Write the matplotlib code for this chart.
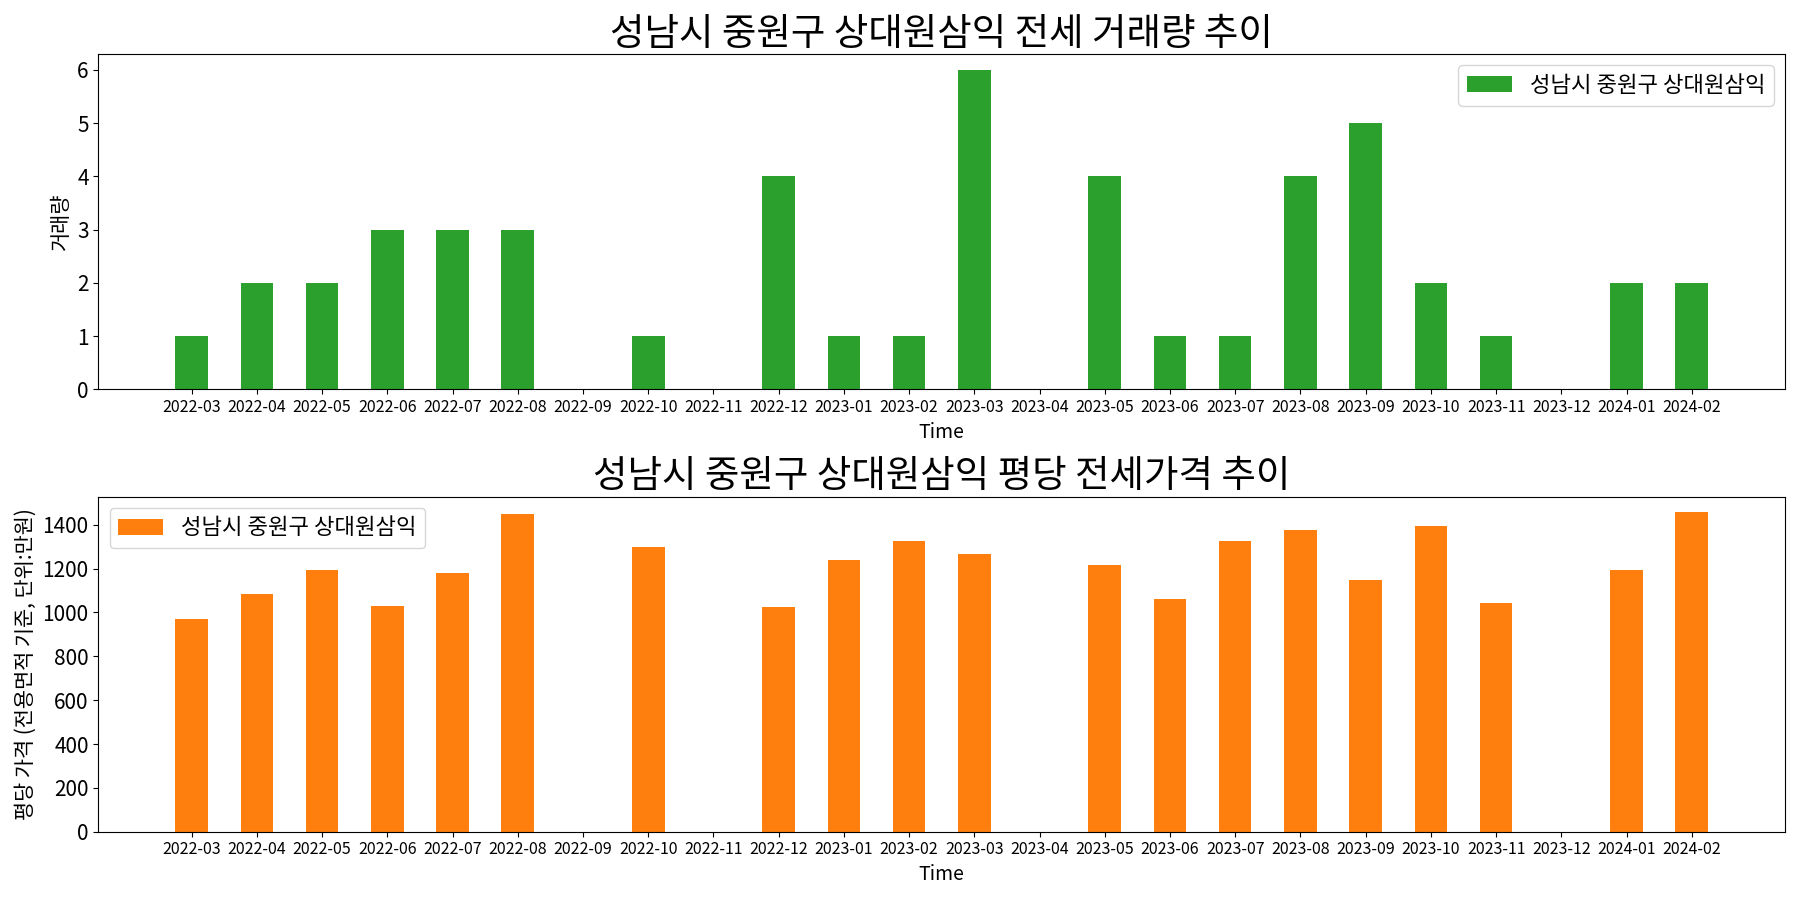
import matplotlib
matplotlib.use('Agg')
import matplotlib.pyplot as plt
import numpy as np

plt.rcParams['font.family'] = ['Noto Sans CJK KR', 'DejaVu Sans']

months = ['2022-03', '2022-04', '2022-05', '2022-06', '2022-07', '2022-08',
          '2022-09', '2022-10', '2022-11', '2022-12', '2023-01', '2023-02',
          '2023-03', '2023-04', '2023-05', '2023-06', '2023-07', '2023-08',
          '2023-09', '2023-10', '2023-11', '2023-12', '2024-01', '2024-02']
counts = [1, 2, 2, 3, 3, 3, 0, 1, 0, 4, 1, 1,
          6, 0, 4, 1, 1, 4, 5, 2, 1, 0, 2, 2]
prices = [972, 1085, 1194, 1031, 1180, 1447, 0, 1298, 0, 1027, 1239, 1325,
          1266, 0, 1216, 1063, 1325, 1374, 1149, 1392, 1045, 0, 1194, 1456]
name = '성남시 중원구 상대원삼익'

x = np.arange(len(months))

fig, (ax1, ax2) = plt.subplots(2, 1, figsize=(18, 9), dpi=100)

ax1.bar(x, counts, width=0.5, color='#2ca02c', label=name)
ax1.set_title(name + ' 전세 거래량 추이', fontsize=27)
ax1.set_xlabel('Time', fontsize=14)
ax1.set_ylabel('거래량', fontsize=15)
ax1.legend(loc='upper right', fontsize=16)

ax2.bar(x, prices, width=0.5, color='#ff7f0e', label=name)
ax2.set_title(name + ' 평당 전세가격 추이', fontsize=27)
ax2.set_xlabel('Time', fontsize=14)
ax2.set_ylabel('평당 가격 (전용면적 기준, 단위:만원)', fontsize=15)
ax2.legend(loc='upper left', fontsize=16)

for ax in (ax1, ax2):
    ax.set_xticks(x)
    ax.set_xticklabels(months, fontsize=11.5)
    ax.tick_params(axis='y', labelsize=15)
    ax.set_xlim(-1.43, len(months) - 1 + 1.43)

plt.tight_layout()
plt.savefig('out.png')
